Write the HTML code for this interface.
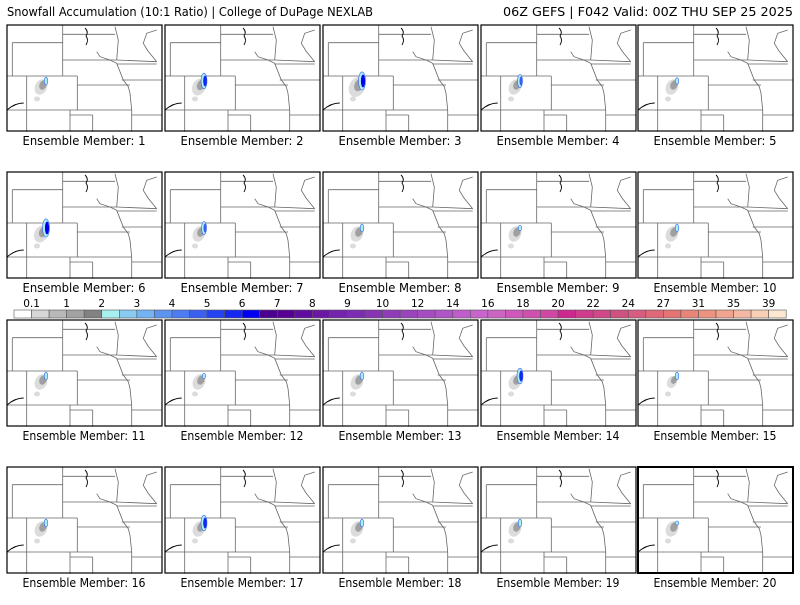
<!DOCTYPE html>
<html><head><meta charset="utf-8"><style>
body{margin:0;background:#fff;width:800px;height:600px;overflow:hidden;font-family:"Liberation Sans",sans-serif}
svg text{font-family:"DejaVu Sans","Liberation Sans",sans-serif;font-size:11px;fill:#000}
</style></head><body>
<svg id="chart" width="800" height="600" viewBox="0 0 800 600">
<defs>
<g id="map">
<g fill="none" stroke="#666" stroke-width="0.8">
<path d="M55.7 0V51M55.7 9.3H108M5.3 17.7H55.7M5.3 17.7V51M0 51H70.3M55.7 35H109.7L149.7 36.7M70.3 51V85M70.3 60H123M0 85H124.7M19.7 51V106.7M63 90H85.7M63 85V106.7M85.7 90V106.7M124.7 85V106.7M124.7 90H155M114.7 55H155M109.7 39H149.7"/>
<path d="M89.7 26.7L93 31.7 103 35 109.7 38.3 113 46.7 116.3 55 121.3 61.7 123 68.3 124.7 85"/>
<path d="M108 1.7L111.3 15 109.7 35M149.7 5L139.7 8.3 136.3 18.3 141 26 149.7 36.7M0 40V45"/>
</g>
<path d="M78 3Q82 7 79 11Q82 15 79 20M0 85Q8 78 16.7 78" fill="none" stroke="#000" stroke-width="0.9"/>
</g>
</defs>
<text x="7" y="16" textLength="366" lengthAdjust="spacingAndGlyphs" style="font-size:12px">Snowfall Accumulation (10:1 Ratio) | College of DuPage NEXLAB</text>
<text x="503" y="16" textLength="290" lengthAdjust="spacingAndGlyphs" style="font-size:12px">06Z GEFS | F042 Valid: 00Z THU SEP 25 2025</text>
<g id="panels"></g>
<g id="colorbar"></g>
</svg>
<script>
const members=[1,2,3,4,5,6,7,8,9,10,11,12,13,14,15,16,17,18,19,20];
const maxSnow=[3,6,7,5,2.5,7,5,3,2,3,3,2,3,6,3,3,6,3,3,1.5];
const grayExtent=[1,1.1,1.3,1,1,1.1,1,1,1,1,1,1,1,1,0.8,1,1,1,1,1];
const cbLabels=["0.1","1","2","3","4","5","6","7","8","9","10","12","14","16","18","20","22","24","27","31","35","39"];
const cbColors=["#ffffff","#d6d6d6","#b8b8b8","#a2a2a2","#828282","#a8f0f0","#88ccf4","#74b4f4","#5c94f2","#4c7cf2","#3a60f2","#2444f2","#1428f2","#0000f0","#4c0090","#560094","#600ca0","#6a18a4","#7424ac","#7c2cb0","#8634b4","#903cb8","#9a44bc","#a44cc0","#b054c8","#c05ccc","#c864cc","#cc64c4","#d058bc","#d050b0","#d048a4","#cc2890","#d03c8c","#d04888","#d05080","#d85c80","#e06878","#e47474","#e88478","#ec9480","#f0a490","#f4b8a4","#f8d0b8","#fce8d0"];
const NS="http://www.w3.org/2000/svg";
const colX=[7,165,323,481,638], rowY=[25,172,320,467], PW=155, PH=106;
const pg=document.getElementById('panels');
function mk(t,a,p){const e=document.createElementNS(NS,t);for(const k in a)e.setAttribute(k,a[k]);p.appendChild(e);return e;}
function snowColor(v){const idx=[0,0.1,0.5,1,1.5,2,2.5,3,3.5,4,4.5,5,5.5,6];let i=0;while(i<idx.length-1&&v>idx[i+1])i++;return cbColors[Math.min(i,13)];}
members.forEach((m,i)=>{
  const c=i%5,r=Math.floor(i/5),x=colX[c],y=rowY[r];
  const g=mk('g',{transform:`translate(${x},${y})`},pg);
  
  
  mk('rect',{x:0,y:0,width:PW,height:PH,fill:'#fff'},g);
  mk('use',{href:'#map'},g);
  const s=grayExtent[i];
  mk('ellipse',{cx:34,cy:62,rx:6*s,ry:8*s,fill:'#dcdcdc',transform:'rotate(25 34 62)'},g);
  mk('ellipse',{cx:36,cy:60,rx:3.5*s,ry:5*s,fill:'#a0a0a0',transform:'rotate(25 36 60)'},g);
  mk('ellipse',{cx:30,cy:74,rx:3,ry:2.5,fill:'#dcdcdc'},g);
  const v=maxSnow[i];
  const h=Math.max(2,v*1.3);
  mk('ellipse',{cx:39,cy:56,rx:Math.max(1.8,v*0.5),ry:h,fill:'#a8f0f0',stroke:'#3a60f2','stroke-width':0.6},g);
  if(v>3) mk('ellipse',{cx:40,cy:56,rx:v*0.3,ry:h*0.7,fill:snowColor(v)},g);
  mk('rect',{x:0,y:0,width:PW,height:PH,fill:'none',stroke:'#000','stroke-width':m===20?2:1.2},g);
  const t=mk('text',{x:x+PW/2-62,y:y+PH+14,textLength:123,lengthAdjust:'spacingAndGlyphs',style:'font-size:12px'},pg);
  
  
  t.textContent='Ensemble Member: '+m;
});
const cb=document.getElementById('colorbar');
const cx0=14,cw=17.55,cy=310,ch=8;
const ncell=44;
for(let k=0;k<ncell;k++){
  const rc=mk('rect',{x:cx0+k*cw,y:cy,width:cw,height:ch,fill:cbColors[k],stroke:'#555','stroke-width':0.6},cb);
  
  
}
cbLabels.forEach((l,j)=>{
  const t=mk('text',{x:cx0+(2*j+1)*cw,y:cy-3,'text-anchor':'middle',style:'font-size:10.5px'},cb);
  
  
  t.textContent=l;
});
</script>
</body></html>
